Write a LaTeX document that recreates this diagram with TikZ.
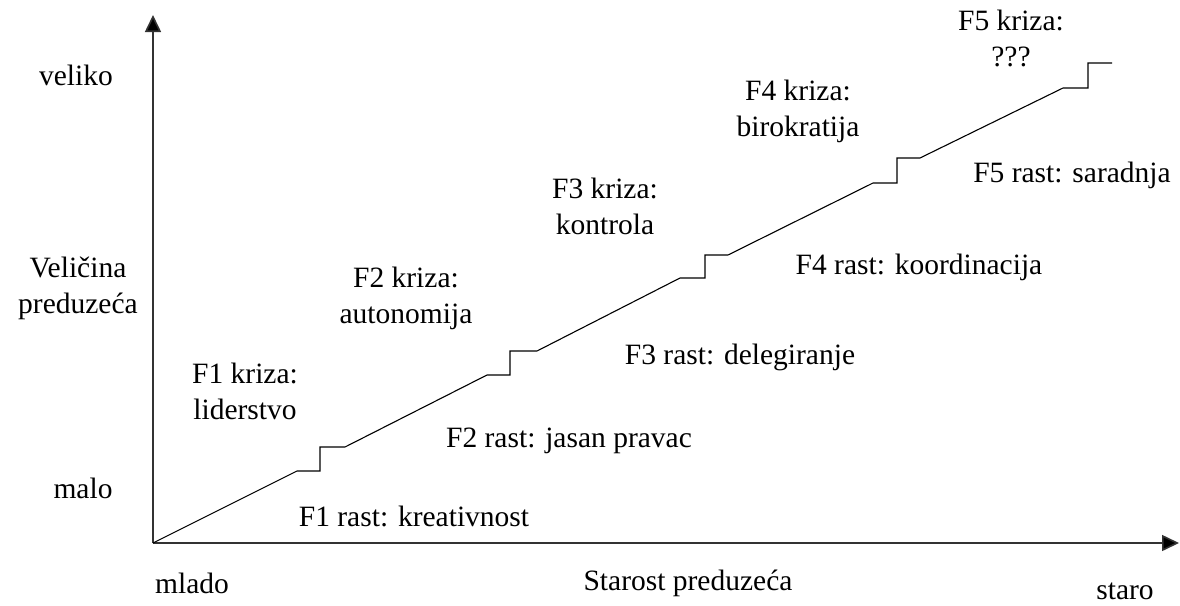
\documentclass[tikz,border=0pt]{standalone}
\usepackage{fontspec}
\setmainfont{Liberation Serif}
\usetikzlibrary{arrows.meta}

\begin{document}
\begin{tikzpicture}[x=0.5pt,y=-0.5pt]
	\tikzstyle{lbl} = [inner sep=0pt, align=center, font=\fontsize{14.75}{18}\selectfont]
	\tikzstyle{axis} = [line width=0.8pt, draw=black!80, -{Triangle[length=8.5pt,width=8pt,fill=black]}]
	\tikzstyle{line} = [line width=0.55pt]
	\useasboundingbox (0,0) rectangle (1180,606);
	\coordinate (o) at (153,543);
	\coordinate (ytop) at (153,15);
	\coordinate (xend) at (1179,543);
	\draw[axis](o) -- (ytop);
	\draw[axis](o) -- (xend);
	% stepenice
	\draw[line](o) -- (297,471) -- (320,471) -- (320,447) -- (345,447)
		-- (487,375) -- (510,375) -- (510,351) -- (537,351)
		-- (680,278) -- (705,278) -- (705,255) -- (728,255)
		-- (873,183) -- (897,183) -- (897,158) -- (920,158)
		-- (1063,88) -- (1088,88) -- (1088,63) -- (1112,63);
	% ose
	\node(veliko)[lbl] at (76,75) {veliko};
	\node(velicina)[lbl] at (78,288) {Veličina\\preduzeća};
	\node(malo)[lbl] at (83,488) {malo};
	\node(mlado)[lbl] at (192,583) {mlado};
	\node(starost)[lbl] at (688,583) {Starost preduzeća};
	\node(staro)[lbl] at (1125,591) {staro};
	% faze
	\node(k1)[lbl] at (245,391) {F1 kriza:\\liderstvo};
	\node(r1)[lbl] at (414,516) {F1 rast: kreativnost};
	\node(k2)[lbl] at (406,298) {F2 kriza:\\autonomija};
	\node(r2)[lbl] at (569,441) {F2 rast: jasan pravac};
	\node(k3)[lbl] at (605,206) {F3 kriza:\\kontrola};
	\node(r3)[lbl] at (740,357) {F3 rast: delegiranje};
	\node(k4)[lbl] at (798,111) {F4 kriza:\\birokratija};
	\node(r4)[lbl] at (919,267) {F4 rast: koordinacija};
	\node(k5)[lbl] at (1011,38) {F5 kriza:\\???};
	\node(r5)[lbl] at (1072,175) {F5 rast: saradnja};
\end{tikzpicture}
\end{document}
